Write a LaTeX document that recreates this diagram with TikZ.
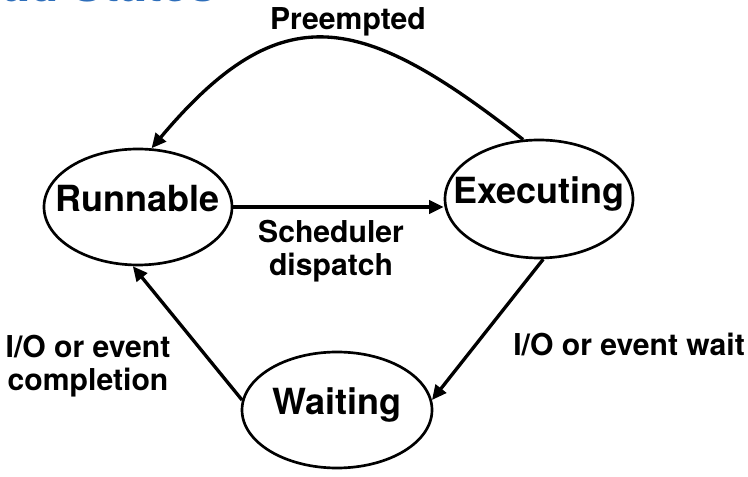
\documentclass[tikz,border=0pt]{standalone}
\usepackage{fontspec}
\setmainfont{TeX Gyre Heros}
\usetikzlibrary{shapes.geometric,arrows.meta}
\definecolor{titleblue}{RGB}{46,110,186}
\begin{document}
\begin{tikzpicture}[x=0.75pt,y=0.75pt,
  state/.style={ellipse, draw, line width=2pt, inner sep=0pt,
    text height=0.72em, text depth=0pt,
    font=\fontsize{27}{31}\selectfont\bfseries},
  conn/.style={line width=2.5pt, -{Triangle[length=11pt,width=10pt]}},
  lbl/.style={font=\fontsize{22.6}{25}\selectfont\bfseries, inner sep=0pt, align=center}]
\useasboundingbox (0,0) rectangle (748,477);
\clip (0,0) rectangle (748,477);
\node[font=\fontsize{36}{40}\selectfont\bfseries, text=titleblue, anchor=base east, inner sep=0pt] (title) at (216,475) {Thread States};
\node[state, minimum width=141pt, minimum height=87pt] (run) at (138,270) {\makebox[0pt]{Runnable}};
\node[state, minimum width=141pt, minimum height=88.5pt] (exec) at (539,278) {\makebox[0pt]{Executing}};
\node[state, minimum width=142.5pt, minimum height=87pt] (wait) at (337,67) {\makebox[0pt]{Waiting}};
\draw[conn] (exec.105) to[out=142,in=50,looseness=1.4] (run.77);
\draw[conn] (run.east) -- (run.east -| exec.west);
\draw[conn] (exec.-86) -- (wait.6);
\draw[conn] (wait.174) -- (run.-95);
\node[lbl, anchor=north] (pre) at (348,470) {Preempted};
\node[lbl, anchor=north] (sd) at (331,257) {Scheduler\\dispatch};
\node[lbl, anchor=north] (ioc) at (88,142) {I/O or event\\completion};
\node[lbl, anchor=north west] (iow) at (513,144) {I/O or event wait};
\end{tikzpicture}
\end{document}
